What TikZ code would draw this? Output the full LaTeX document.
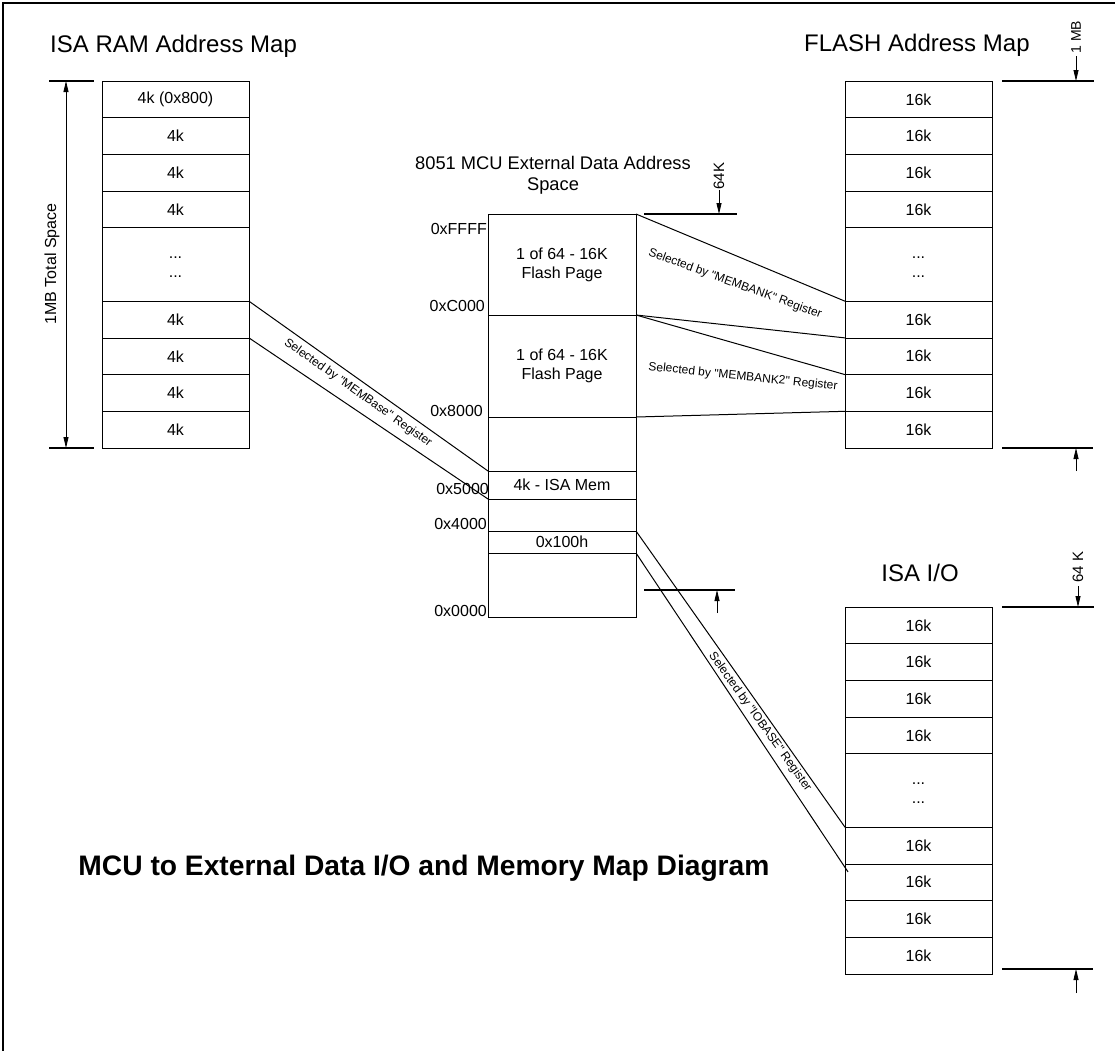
\documentclass[tikz,border=0pt]{standalone}
\usepackage{fontspec}
\setmainfont{Liberation Sans}
\usetikzlibrary{positioning,arrows.meta}

\newcommand\regname[1]{\textquotedbl#1\textquotedbl}

\tikzset{
	cell/.style={draw, line width=0.8pt, minimum width=147pt, minimum height=36.7pt, inner sep=0pt, outer sep=0pt, align=center, font=\fontsize{16}{19}\selectfont},
	bigcell/.style={cell, minimum height=73.4pt},
	mcu/.style={cell, minimum width=148pt},
	addr/.style={anchor=east, inner sep=0pt, font=\fontsize{16}{19}\selectfont},
	head/.style={anchor=base west, inner sep=0pt, font=\fontsize{24}{28}\selectfont},
	sel/.style={inner sep=0pt, font=\fontsize{12}{14}\selectfont},
	link/.style={line width=1pt},
	tick/.style={line width=2pt},
	dimarrow/.style={-{Triangle[length=11pt,width=5pt]}, line width=0.8pt},
	dimboth/.style={{Triangle[length=11pt,width=5pt]}-{Triangle[length=11pt,width=5pt]}, line width=0.8pt},
	dimlabel/.style={rotate=90, inner sep=0pt, font=\fontsize{15}{18}\selectfont},
}

\begin{document}
\begin{tikzpicture}[x=1pt, y=-1pt]
			%%%%% START %%%%%
			\useasboundingbox (0,0) rectangle (1115,1050);
			\draw[line width=2pt] (3,1070) -- (3,3) -- (1130,3);
			
			% titles
			\node[head] (ramtitle) at (50,52) {ISA RAM Address Map};
			\node[head] (flashtitle) at (804,51) {FLASH Address Map};
			\node[head, anchor=base] (iotitle) at (920,581) {ISA I/O};
			\node[align=center, inner sep=0pt, font=\fontsize{18.3}{21}\selectfont] (mcutitle) at (553,175) {8051 MCU External Data Address\\Space};
			\node[anchor=base, inner sep=0pt, font=\bfseries\fontsize{28.2}{32}\selectfont] (maintitle) at (424,875) {MCU to External Data I/O and Memory Map Diagram};
			
			% address maps
			\foreach \m/\x/\y/\first/\lab in {ram/102/81/{4k (0x800)}/4k, flash/845/81/16k/16k, io/845/607/16k/16k} {
				\node[cell, anchor=north west] (\m1) at (\x,\y) {\first};
				\node[cell, below=0pt of \m1] (\m2) {\lab};
				\node[cell, below=0pt of \m2] (\m3) {\lab};
				\node[cell, below=0pt of \m3] (\m4) {\lab};
				\node[bigcell, below=0pt of \m4] (\m5) {\strut...\\...\strut};
				\node[cell, below=0pt of \m5] (\m6) {\lab};
				\node[cell, below=0pt of \m6] (\m7) {\lab};
				\node[cell, below=0pt of \m7] (\m8) {\lab};
				\node[cell, below=0pt of \m8] (\m9) {\lab};
			}
			
			% 8051 data space
			\node[mcu, anchor=north west, minimum height=101pt] (page1) at (488,214) {1 of 64 - 16K\\Flash Page};
			\node[mcu, below=0pt of page1, minimum height=102pt] (page2) {1 of 64 - 16K\\Flash Page};
			\node[mcu, below=0pt of page2, minimum height=54pt] (gap1) {};
			\node[mcu, below=0pt of gap1, minimum height=28pt] (isamem) {4k - ISA Mem};
			\node[mcu, below=0pt of isamem, minimum height=32pt] (gap2) {};
			\node[mcu, below=0pt of gap2, minimum height=22pt] (iowin) {0x100h};
			\node[mcu, below=0pt of iowin, minimum height=64pt] (gap3) {};
			
			\node[addr] (aFFFF) at (487,229) {0xFFFF};
			\node[addr] (aC000) at (485,306) {0xC000};
			\node[addr] (a8000) at (483,411) {0x8000};
			\node[addr] (a5000) at (489,489) {0x5000};
			\node[addr] (a4000) at (487,524) {0x4000};
			\node[addr] (a0000) at (487,611) {0x0000};
			
			% selection lines
			\draw[link] (ram6.north east) -- (isamem.north west);
			\draw[link] (ram6.south east) -- (isamem.south west);
			\draw[link] (page1.north east) -- (flash6.north west);
			\draw[link] (page1.south east) -- (flash6.south west);
			\draw[link] (page2.north east) -- (flash7.south west);
			\draw[link] (page2.south east) -- (flash8.south west);
			\draw[link] (iowin.north east) -- (io6.north west);
			\draw[link] (iowin.south east) -- ([xshift=3pt,yshift=-8pt]io7.north west);
			
			\node[sel, rotate=-35.4] (selbase) at (358,393) {Selected by \regname{MEMBase} Register};
			\node[sel, rotate=-20] (selbank) at (735,284) {Selected by \regname{MEMBANK} Register};
			\node[sel, rotate=-6] (selbank2) at (743,377) {Selected by \regname{MEMBANK2} Register};
			\node[sel, rotate=-54.3] (selio) at (760,722) {Selected by \regname{IOBASE} Register};
			
			% dimensions
			\draw[tick] (49,81) -- (94,81);
			\draw[tick] (49,448) -- (94,448);
			\draw[dimboth] (66,81) -- (66,448);
			\node[dimlabel, font=\fontsize{16}{19}\selectfont] (totalspace) at (52,264) {1MB Total Space};
			
			\draw[tick] (644,214) -- (737,214);
			\draw[dimarrow] (719,190) -- (719,214);
			\node[dimlabel] (kmcu) at (719,176) {64K};
			\draw[tick] (644,590) -- (735,590);
			\draw[dimarrow] (717,613) -- (717,590);
			
			\draw[tick] (1002,81) -- (1094,81);
			\draw[dimarrow] (1076,56) -- (1076,81);
			\node[dimlabel, font=\fontsize{14}{17}\selectfont] (mbflash) at (1076,37) {1 MB};
			\draw[tick] (1002,448) -- (1093,448);
			\draw[dimarrow] (1076,471) -- (1076,448);
			
			\draw[tick] (1002,607) -- (1094,607);
			\draw[dimarrow] (1078,586) -- (1078,607);
			\node[dimlabel] (kio) at (1078,567) {64 K};
			\draw[tick] (1002,969) -- (1093,969);
			\draw[dimarrow] (1076,993) -- (1076,969);
			%%%%% END %%%%%
\end{tikzpicture}
\end{document}
